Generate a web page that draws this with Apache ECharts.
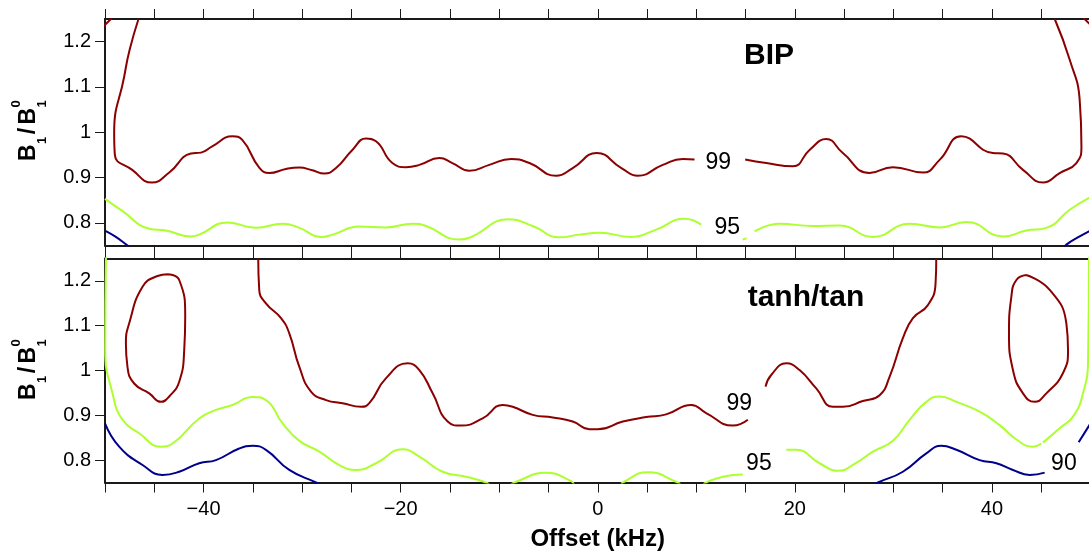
<!DOCTYPE html>
<html>
<head>
<meta charset="utf-8">
<script src="https://cdn.jsdelivr.net/npm/echarts@6/dist/echarts.min.js"></script>
<style>
  html, body { margin: 0; padding: 0; background: #fff; }
  #chart { width: 1089px; height: 551px; }
</style>
</head>
<body>
<div id="chart"></div>
<script>
// contour lines: [offset kHz, B1/B1^0]
const bip99 = [
  [[-46.6, 1.25], [-47.5, 1.182], [-48.05, 1.123], [-49.07, 0.999], [-49.0, 0.950], [-47.24, 0.917], [-45.24, 0.889],
   [-43.48, 0.911], [-41.28, 0.953], [-40.26, 0.955], [-39.12, 0.969], [-37.06, 0.991], [-36.07, 0.983], [-34.35, 0.922],
   [-33.33, 0.910], [-31.63, 0.919], [-30.28, 0.922], [-28.96, 0.916], [-27.75, 0.909], [-26.56, 0.921], [-24.9, 0.961],
   [-23.51, 0.986], [-22.5, 0.980], [-20.84, 0.932], [-19.45, 0.923], [-18.1, 0.928], [-16.07, 0.943], [-14.75, 0.932],
   [-13.03, 0.915], [-11.0, 0.928], [-8.79, 0.941], [-6.93, 0.932], [-4.22, 0.904], [-2.54, 0.921], [-0.1, 0.954],
   [2.4, 0.921], [4.06, 0.904], [6.6, 0.928], [8.63, 0.941], [9.82, 0.940]],
  [[14.96, 0.940], [17.1, 0.932], [19.8, 0.925], [21.49, 0.961], [23.19, 0.985], [24.87, 0.954], [27.58, 0.910],
   [29.95, 0.923], [33.0, 0.911], [34.69, 0.939], [36.89, 0.991], [40.1, 0.954], [41.12, 0.953], [43.15, 0.917],
   [45.18, 0.889], [46.87, 0.910], [48.57, 0.932], [49.08, 0.969], [48.9, 1.072], [47.89, 1.16], [46.37, 1.25]],
  [[-50.2, 1.233], [-49.3, 1.252]],
  [[49.3, 1.252], [50.2, 1.233]]
]
const bip95 = [
  [[-50, 0.853], [-48.22, 0.826], [-45.51, 0.787], [-43.82, 0.783], [-41.28, 0.770], [-40.44, 0.774], [-37.56, 0.801],
   [-34.68, 0.789], [-31.98, 0.798], [-30.28, 0.789], [-28.08, 0.769], [-26.9, 0.774], [-24.19, 0.792], [-21.48, 0.790],
   [-18.78, 0.798], [-17.42, 0.793], [-14.04, 0.763], [-13.03, 0.767], [-8.96, 0.808], [-6.6, 0.793], [-3.89, 0.768],
   [-1.86, 0.774], [0.17, 0.778], [3.39, 0.769], [5.93, 0.785], [8.8, 0.809], [10.5, 0.796]],
  [[14.7, 0.763], [15.1, 0.766]],
  [[15.91, 0.781], [18.45, 0.798], [21.83, 0.793], [24.54, 0.794], [27.92, 0.769], [31.64, 0.798], [34.69, 0.790],
   [37.4, 0.802], [41.12, 0.770], [43.49, 0.783], [45.52, 0.789], [47.89, 0.829], [50, 0.857]]
]
const bip90 = [
  [[-50, 0.783], [-48.9, 0.769], [-47.7, 0.75], [-47.3, 0.744]],
  [[47.3, 0.744], [47.55, 0.752], [48.9, 0.770], [50, 0.783]]
]

const tan99 = [
  [[-43.65, 1.215], [-42.47, 1.202], [-41.86, 1.12], [-41.96, 1.046], [-42.47, 0.975], [-43.48, 0.942], [-44.33, 0.930],
   [-45.51, 0.949], [-47.04, 0.971], [-47.72, 1.008], [-47.88, 1.061], [-47.55, 1.105], [-46.19, 1.187], [-44.67, 1.211],
   [-43.65, 1.215]],
  [[-34.45, 1.25], [-34.35, 1.18], [-33.67, 1.15], [-32.14, 1.117], [-31.3, 1.083], [-30.28, 1.008], [-29.1, 0.953],
   [-27.57, 0.934], [-25.89, 0.927], [-24.02, 0.919], [-23.18, 0.927], [-21.48, 0.983], [-19.29, 1.016], [-18.1, 1.001],
   [-16.75, 0.949], [-15.23, 0.886], [-13.87, 0.877], [-11.68, 0.893], [-9.64, 0.923], [-8.63, 0.919], [-6.6, 0.901],
   [-4.57, 0.895], [-2.54, 0.886], [-0.84, 0.869], [0, 0.869], [2.54, 0.886], [4.91, 0.896], [6.94, 0.902],
   [9.48, 0.923], [11.0, 0.905], [13.71, 0.877], [15.23, 0.890]],
  [[17.03, 0.964], [17.6, 0.99], [19.13, 1.016], [20.48, 1.001], [22.17, 0.96], [23.86, 0.919], [24.87, 0.919],
   [26.9, 0.932], [28.6, 0.945], [29.61, 0.986], [30.96, 1.072], [31.98, 1.117], [33.5, 1.146], [34.28, 1.195], [34.35, 1.25]],
  [[43.49, 1.213], [45.86, 1.18], [47.55, 1.105], [47.72, 1.046], [47.2, 0.994], [45.52, 0.949], [44.33, 0.93],
   [43.15, 0.949], [42.13, 1.001], [41.73, 1.083], [41.97, 1.165], [42.48, 1.202], [43.49, 1.213]]
]
const tan95 = [
  [[-49.9, 1.26], [-49.98, 1.046], [-49.24, 0.949], [-48.22, 0.89], [-46.53, 0.86], [-44.33, 0.83], [-43.15, 0.837],
   [-40.44, 0.893], [-38.74, 0.912], [-37.06, 0.923], [-35.03, 0.941], [-33.67, 0.934], [-31.98, 0.882], [-30.28, 0.843],
   [-28.25, 0.819], [-26.22, 0.789], [-24.53, 0.778], [-22.5, 0.793], [-19.8, 0.824], [-18.1, 0.808], [-15.74, 0.774],
   [-13.36, 0.763], [-11.33, 0.75], [-11.0, 0.745]],
  [[-8.8, 0.745], [-8.46, 0.75], [-5.24, 0.772], [-2.7, 0.753], [-2.4, 0.745]],
  [[2.4, 0.745], [2.54, 0.75], [5.08, 0.773], [8.12, 0.75], [8.4, 0.745]],
  [[10.7, 0.745], [11.0, 0.75], [12.69, 0.763], [14.72, 0.768]],
  [[19.13, 0.823], [20.14, 0.823], [22.51, 0.793], [24.37, 0.776], [26.23, 0.794], [27.92, 0.819], [29.95, 0.843],
   [31.64, 0.89], [33.34, 0.93], [34.69, 0.942], [36.39, 0.93], [38.75, 0.908], [40.78, 0.878], [42.48, 0.846],
   [44.16, 0.83], [45.01, 0.837]],
  [[45.18, 0.839], [46.87, 0.871], [48.22, 0.897], [49.24, 0.949], [49.75, 1.023], [49.85, 1.26]]
]
const tan90 = [
  [[-50, 0.882], [-48.56, 0.83], [-46.19, 0.789], [-44.16, 0.767], [-42.47, 0.774], [-40.44, 0.793], [-38.74, 0.8],
   [-36.38, 0.826], [-35.03, 0.832], [-33.67, 0.823], [-31.3, 0.778], [-28.59, 0.75], [-28.2, 0.745]],
  [[28.1, 0.745], [28.43, 0.75], [30.96, 0.774], [33.34, 0.815], [34.86, 0.832], [36.39, 0.823], [38.75, 0.8],
   [40.45, 0.793], [42.13, 0.778], [43.83, 0.767], [45.35, 0.772]],
  [[48.8, 0.84], [50, 0.882]]
]

// contour level labels [x, y, text]
const bipLabels = [[12.23, 0.932, '99'], [13.15, 0.789, '95']]
const tanLabels = [[14.36, 0.926, '99'], [16.35, 0.792, '95'], [47.3, 0.793, '90']]

const yTicks = [0.8, 0.9, 1, 1.1, 1.2]
const xRange = [-50, 50]
const yRange = [0.75, 1.25]

const colors = { c99: '#8b0000', c95: '#adff2f', c90: '#00008b' }
const FONT = 'Liberation Sans, Arial, Helvetica, sans-serif'

const chart = echarts.init(document.getElementById('chart'))

function xAx(grid, pos, withLabels) {
  return {
    type: 'value', gridIndex: grid, position: pos,
    min: xRange[0], max: xRange[1], interval: 5,
    axisLine: { onZero: false, lineStyle: { color: '#1a1a1a', width: 2 } },
    axisTick: { inside: false, length: 10, lineStyle: { color: '#1a1a1a', width: 1 } },
    axisLabel: withLabels ? {
      show: true, margin: 17, fontSize: 20, color: '#000', fontFamily: FONT,
      formatter: v => (v % 20 === 0 ? (v < 0 ? '\u2212' + Math.abs(v) : String(v)) : '')
    } : { show: false },
    splitLine: { show: false },
    name: withLabels ? 'Offset (kHz)' : '',
    nameLocation: 'middle', nameGap: 45,
    nameTextStyle: { fontSize: 24, fontWeight: 'bold', color: '#000', fontFamily: FONT }
  }
}
function yAx(grid, pos) {
  const left = pos === 'left'
  return {
    type: 'value', gridIndex: grid, position: pos,
    min: yRange[0], max: yRange[1],
    axisLine: { onZero: false, lineStyle: { color: '#1a1a1a', width: 2 } },
    axisTick: { show: left, length: 10, customValues: yTicks, lineStyle: { color: '#1a1a1a', width: 1 } },
    axisLabel: { show: left, customValues: yTicks, margin: 14, fontSize: 20, color: '#000', fontFamily: FONT },
    splitLine: { show: false }
  }
}

const series = []
function addLines(pieces, color, axis) {
  pieces.forEach(p => series.push({
    type: 'line', data: p, xAxisIndex: axis, yAxisIndex: axis,
    smooth: 0.5, showSymbol: false, silent: true,
    lineStyle: { color, width: 2 }
  }))
}
addLines(bip99, colors.c99, 0)
addLines(bip95, colors.c95, 0)
addLines(bip90, colors.c90, 0)
addLines(tan99, colors.c99, 2)
addLines(tan95, colors.c95, 2)
addLines(tan90, colors.c90, 2)

function addLabels(list, axis) {
  series.push({
    type: 'scatter', xAxisIndex: axis, yAxisIndex: axis, silent: true,
    symbolSize: 0, itemStyle: { color: '#000', opacity: 1 },
    data: list.map(d => ({ value: [d[0], d[1]], name: d[2] })),
    label: {
      show: true, position: 'inside', formatter: p => p.name,
      fontSize: 23, color: '#000', opacity: 1, fontFamily: FONT
    }
  })
}
addLabels(bipLabels, 0)
addLabels(tanLabels, 2)

function yTitle(cx, cy) {
  const bold = { fontWeight: 'bold', fill: '#000', fontFamily: FONT, verticalAlign: 'middle' }
  return {
    type: 'group', x: cx, y: cy, rotation: Math.PI / 2, silent: true,
    children: [
      { type: 'text', x: 0, y: 0, style: { ...bold, text: 'B', fontSize: 23, align: 'left' } },
      { type: 'text', x: 17, y: 14, style: { ...bold, text: '1', fontSize: 13, align: 'left' } },
      { type: 'text', x: 30, y: 0, style: { ...bold, text: '/', fontSize: 23, align: 'center' } },
      { type: 'text', x: 36.5, y: 0, style: { ...bold, text: 'B', fontSize: 23, align: 'left' } },
      { type: 'text', x: 53.5, y: -12.5, style: { ...bold, text: '0', fontSize: 13, align: 'left' } },
      { type: 'text', x: 53.5, y: 14, style: { ...bold, text: '1', fontSize: 13, align: 'left' } }
    ]
  }
}

chart.setOption({
  backgroundColor: '#fff',
  animation: false,
  grid: [
    { left: 105, top: 19, width: 985.5, height: 226.5, outerBoundsMode: 'none' },
    { left: 105, top: 258.5, width: 985.5, height: 224, outerBoundsMode: 'none' }
  ],
  xAxis: [xAx(0, 'bottom', false), xAx(0, 'top', false), xAx(1, 'bottom', true), xAx(1, 'top', false)],
  yAxis: [yAx(0, 'left'), yAx(0, 'right'), yAx(1, 'left'), yAx(1, 'right')],
  graphic: [
    { type: 'text', x: 769, y: 55.5, silent: true,
      style: { text: 'BIP', fontSize: 30, fontWeight: 'bold', fill: '#000', fontFamily: FONT, align: 'center', verticalAlign: 'middle' } },
    { type: 'text', x: 806, y: 297.5, silent: true,
      style: { text: 'tanh/tan', fontSize: 30, fontWeight: 'bold', fill: '#000', fontFamily: FONT, align: 'center', verticalAlign: 'middle' } },
    yTitle(28.5, 161),
    yTitle(28.5, 400)
  ],
  series
})
</script>
</body>
</html>
